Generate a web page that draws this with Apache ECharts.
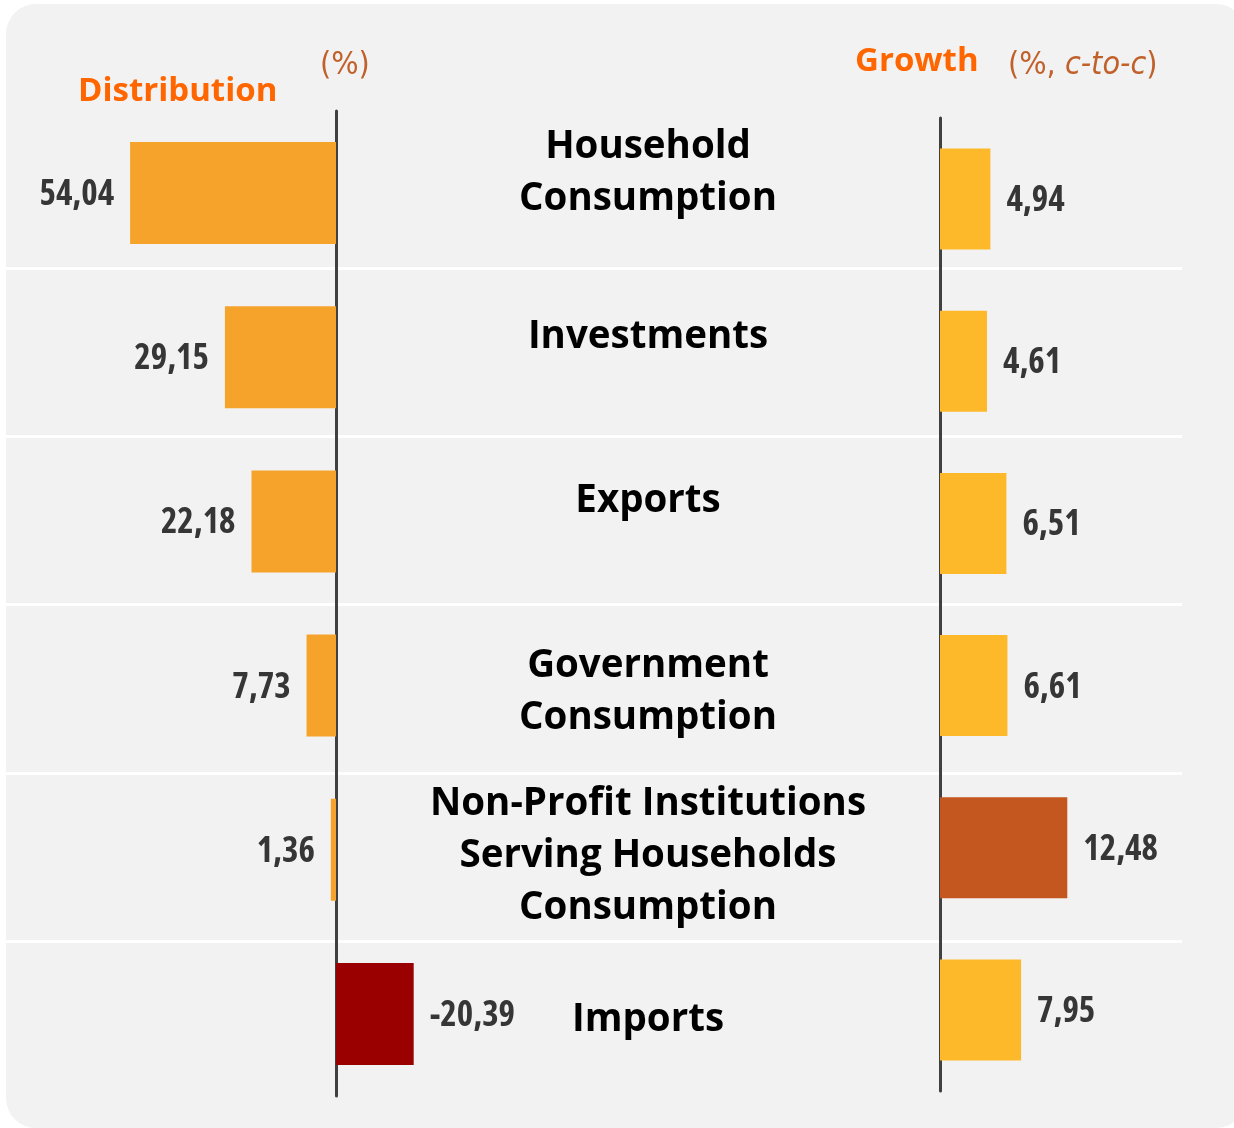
<!DOCTYPE html>
<html>
<head>
<meta charset="utf-8">
<script src="https://cdn.jsdelivr.net/npm/echarts@6/dist/echarts.min.js"></script>
<style>
html,body{margin:0;padding:0;background:#ffffff;}
#chart{width:1234px;height:1128px;}
</style>
</head>
<body>
<div id="chart"></div>
<script>
// ---- data ----
var categories = [
  'Household\nConsumption',
  'Investments',
  'Exports',
  'Government\nConsumption',
  'Non-Profit Institutions\nServing Households\nConsumption',
  'Imports'
];
var distribution = [54.04, 29.15, 22.18, 7.73, 1.36, -20.39];
var growth = [4.94, 4.61, 6.51, 6.61, 12.48, 7.95];
var titleLeft = 'Distribution';
var unitLeft = '(%)';
var titleRight = 'Growth';
var unitRight = ['(%, ', 'c-to-c', ')'];

// ---- styles / layout ----
var raiseLabel = [true, true, true, false, false, false];
var distColor = '#F6A32B', distNegColor = '#9A0000';
var growthColor = '#FDB92A', growthHiColor = '#C4561F';
var numFont = "'Open Sans','DejaVu Sans'";
var unitFont = "'DejaVu Sans'";
var textFont = "'Open Sans','Noto Sans',sans-serif";
function fmt(v){ return v.toFixed(2).replace('.', ','); }
var numLabel = {fontFamily: numFont, fontWeight: 'bold condensed', fontSize: 35, color: '#363636', distance: 16, offset: [0, 2]};

var chart = echarts.init(document.getElementById('chart'), null, {renderer: 'canvas'});
var maxGrowth = Math.max.apply(null, growth);

var option = {
  backgroundColor: '#ffffff',
  animation: false,
  graphic: [{
    type: 'rect', z: -10, silent: true,
    shape: {x: 6, y: 4, width: 1240, height: 1124, r: 30},
    style: {fill: '#f2f2f2'}
  }],
  title: [
    {text: titleLeft, left: 78, top: 75, padding: 0,
     textStyle: {color: '#FF6600', fontSize: 33, fontWeight: 'bold', fontFamily: textFont}},
    {text: unitLeft, left: 320, top: 50, padding: 0,
     textStyle: {color: '#C0602A', fontSize: 32, fontWeight: 'normal condensed', fontFamily: unitFont}},
    {text: titleRight, left: 855, top: 45, padding: 0,
     textStyle: {color: '#FF6600', fontSize: 33, fontWeight: 'bold', fontFamily: textFont}},
    {text: '{a|' + unitRight[0] + '}{b|' + unitRight[1] + '}{a|' + unitRight[2] + '}', left: 1008, top: 50, padding: 0,
     textStyle: {rich: {
       a: {color: '#C0602A', fontSize: 32, fontWeight: 'normal condensed', fontFamily: unitFont},
       b: {color: '#C0602A', fontSize: 32, fontWeight: 'normal condensed', fontFamily: unitFont, fontStyle: 'italic'}
     }}}
  ],
  grid: [
    {left: 107.4, width: 342.9, top: 111, height: 985},
    {left: 940, width: 204, top: 118, height: 973},
    {left: 648, width: 1, top: 117, height: 985},
    {left: 6, right: 52, top: 268, height: 673}
  ],
  xAxis: [
    {gridIndex: 0, type: 'value', min: -30, max: 60, inverse: true, show: false},
    {gridIndex: 1, type: 'value', min: 0, max: 20, show: false},
    {gridIndex: 2, type: 'value', min: 0, max: 1, show: false},
    {gridIndex: 3, type: 'value', min: 0, max: 1, show: false}
  ],
  yAxis: [
    {gridIndex: 0, type: 'category', data: categories, inverse: true,
     axisLine: {show: true, onZero: true, lineStyle: {color: '#404040', width: 3}},
     axisTick: {show: false}, axisLabel: {show: false}, splitLine: {show: false}},
    {gridIndex: 1, type: 'category', data: categories, inverse: true,
     axisLine: {show: true, lineStyle: {color: '#404040', width: 3}},
     axisTick: {show: false}, axisLabel: {show: false}, splitLine: {show: false}},
    {gridIndex: 2, type: 'category', inverse: true, data: categories,
     axisLine: {show: false}, axisTick: {show: false}, splitLine: {show: false},
     axisLabel: {show: true, align: 'center', margin: 0, color: '#000000', fontSize: 38.5,
       fontWeight: 'bold', fontFamily: textFont, lineHeight: 52,
       formatter: function (v, i) { return raiseLabel[i] ? v + '\n' : v; }}},
    {gridIndex: 3, type: 'value', min: 0, max: 4, interval: 1,
     axisLine: {show: false}, axisTick: {show: false}, axisLabel: {show: false},
     splitLine: {show: true, lineStyle: {color: '#ffffff', width: 3}}}
  ],
  series: [
    {type: 'bar', xAxisIndex: 0, yAxisIndex: 0, barWidth: 102,
     data: distribution.map(function (v) {
       return {value: v,
         itemStyle: {color: v < 0 ? distNegColor : distColor},
         label: {position: v < 0 ? 'right' : 'left'}};
     }),
     label: Object.assign({show: true, formatter: function (p) { return fmt(p.value); }}, numLabel)},
    {type: 'bar', xAxisIndex: 1, yAxisIndex: 1, barWidth: 101,
     data: growth.map(function (v) {
       return {value: v, itemStyle: {color: v === maxGrowth ? growthHiColor : growthColor}};
     }),
     label: Object.assign({show: true, position: 'right', formatter: function (p) { return fmt(p.value); }}, numLabel)}
  ]
};
chart.setOption(option);
</script>
</body>
</html>
